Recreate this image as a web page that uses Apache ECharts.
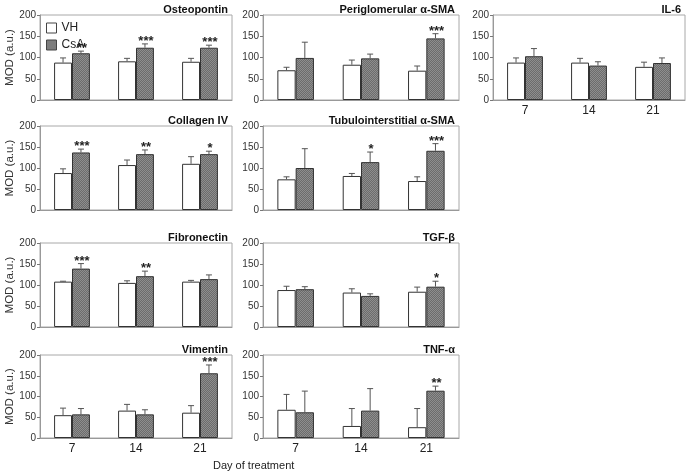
<!DOCTYPE html>
<html>
<head>
<meta charset="utf-8">
<script src="https://cdn.jsdelivr.net/npm/echarts@6/dist/echarts.min.js"></script>
<style>
html,body{margin:0;padding:0;background:#fff;}
#chart{width:689px;height:474px;}
</style>
</head>
<body>
<div id="chart"></div>
<script>
// ---- Data ----
const days = ['7', '14', '21'];
const seriesNames = ['VH', 'CsA'];
const yTicks = [0, 50, 100, 150, 200];
const xAxisTitle = 'Day of treatment';
const yAxisTitle = 'MOD (a.u.)';

const osteopontinVH = [88, 91, 90];
const osteopontinVHsd = [11, 7, 8];
const osteopontinCsA = [110, 123, 123];
const osteopontinCsAsd = [5, 9, 6];
const osteopontinStars = ['**', '***', '***'];

const periglomVH = [70, 83, 69];
const periglomVHsd = [7, 11, 11];
const periglomCsA = [99, 98, 145];
const periglomCsAsd = [37, 10, 11];
const periglomStars = ['', '', '***'];

const il6VH = [88, 88, 78];
const il6VHsd = [11, 10, 11];
const il6CsA = [103, 81, 87];
const il6CsAsd = [18, 9, 12];
const il6Stars = ['', '', ''];

const collagenVH = [88, 107, 110];
const collagenVHsd = [10, 12, 17];
const collagenCsA = [137, 133, 133];
const collagenCsAsd = [8, 10, 7];
const collagenStars = ['***', '**', '*'];

const tubuloVH = [73, 81, 69];
const tubuloVHsd = [6, 6, 10];
const tubuloCsA = [100, 114, 141];
const tubuloCsAsd = [46, 24, 17];
const tubuloStars = ['', '*', '***'];

const fibronectinVH = [108, 105, 108];
const fibronectinVHsd = [1, 5, 3];
const fibronectinCsA = [139, 121, 114];
const fibronectinCsAsd = [12, 12, 10];
const fibronectinStars = ['***', '**', ''];

const tgfbVH = [88, 82, 84];
const tgfbVHsd = [9, 9, 11];
const tgfbCsA = [90, 74, 96];
const tgfbCsAsd = [6, 5, 13];
const tgfbStars = ['', '', '*'];

const vimentinVH = [55, 66, 61];
const vimentinVHsd = [17, 15, 17];
const vimentinCsA = [57, 57, 156];
const vimentinCsAsd = [14, 11, 20];
const vimentinStars = ['', '', '***'];

const tnfaVH = [68, 29, 26];
const tnfaVHsd = [37, 42, 45];
const tnfaCsA = [62, 66, 114];
const tnfaCsAsd = [51, 53, 11];
const tnfaStars = ['', '', '**'];

// ---- Layout ----
const cols = [[40, 232], [263, 459], [493, 685]];
const rows = [[15, 100], [126, 210], [243, 327], [355, 438]];

const panels = [
  {title: 'Osteopontin', vh: osteopontinVH, vhSd: osteopontinVHsd, csa: osteopontinCsA, csaSd: osteopontinCsAsd, stars: osteopontinStars, c: 0, r: 0, xl: false},
  {title: 'Periglomerular α-SMA', vh: periglomVH, vhSd: periglomVHsd, csa: periglomCsA, csaSd: periglomCsAsd, stars: periglomStars, c: 1, r: 0, xl: false},
  {title: 'IL-6', vh: il6VH, vhSd: il6VHsd, csa: il6CsA, csaSd: il6CsAsd, stars: il6Stars, c: 2, r: 0, xl: true},
  {title: 'Collagen IV', vh: collagenVH, vhSd: collagenVHsd, csa: collagenCsA, csaSd: collagenCsAsd, stars: collagenStars, c: 0, r: 1, xl: false},
  {title: 'Tubulointerstitial α-SMA', vh: tubuloVH, vhSd: tubuloVHsd, csa: tubuloCsA, csaSd: tubuloCsAsd, stars: tubuloStars, c: 1, r: 1, xl: false},
  {title: 'Fibronectin', vh: fibronectinVH, vhSd: fibronectinVHsd, csa: fibronectinCsA, csaSd: fibronectinCsAsd, stars: fibronectinStars, c: 0, r: 2, xl: false},
  {title: 'TGF-β', vh: tgfbVH, vhSd: tgfbVHsd, csa: tgfbCsA, csaSd: tgfbCsAsd, stars: tgfbStars, c: 1, r: 2, xl: false},
  {title: 'Vimentin', vh: vimentinVH, vhSd: vimentinVHsd, csa: vimentinCsA, csaSd: vimentinCsAsd, stars: vimentinStars, c: 0, r: 3, xl: true},
  {title: 'TNF-α', vh: tnfaVH, vhSd: tnfaVHsd, csa: tnfaCsA, csaSd: tnfaCsAsd, stars: tnfaStars, c: 1, r: 3, xl: true}
];

// crosshatch texture for CsA bars
const pat = document.createElement('canvas');
pat.width = 2; pat.height = 2;
const pctx = pat.getContext('2d');
pctx.fillStyle = '#6c6c6c'; pctx.fillRect(0, 0, 2, 2);
pctx.fillStyle = '#8e8e8e'; pctx.fillRect(0, 0, 1, 1); pctx.fillRect(1, 1, 1, 1);
const csaFill = {image: pat, repeat: 'repeat'};

const FONT = 'Liberation Sans, Arial, sans-serif';
const BAR_FRAC = 0.28;

const grids = [], xAxes = [], yAxes = [], series = [], titles = [];

function errSeries(idx, vals, sds, side, stars) {
  return {
    type: 'custom',
    xAxisIndex: idx, yAxisIndex: idx,
    clip: false,
    silent: true,
    z: 5,
    data: vals.map((v, i) => [i, v, sds[i]]),
    renderItem: function (params, api) {
      const i = api.value(0), v = api.value(1), sd = api.value(2);
      const p0 = api.coord([i, v]);
      const p1 = api.coord([i, v + sd]);
      const cw = api.size([1, 0])[0];
      const bw = cw * BAR_FRAC;
      const cx = p0[0] + side * bw / 2;
      const style = {stroke: '#555', lineWidth: 1};
      const children = [
        {type: 'line', shape: {x1: cx, y1: p0[1], x2: cx, y2: p1[1]}, style: style},
        {type: 'line', shape: {x1: cx - 3, y1: p1[1], x2: cx + 3, y2: p1[1]}, style: style}
      ];
      if (stars && stars[params.dataIndex]) {
        children.push({
          type: 'text',
          x: cx + 1, y: p1[1] + 4,
          style: {text: stars[params.dataIndex], fill: '#222', font: 'bold 13px ' + FONT,
                  align: 'center', verticalAlign: 'bottom'}
        });
      }
      return {type: 'group', children: children};
    }
  };
}

panels.forEach((p, k) => {
  const [L, R] = cols[p.c];
  const [T, B] = rows[p.r];
  grids.push({left: L, top: T, width: R - L, height: B - T, show: true,
              borderColor: '#a8a8a8', borderWidth: 1, backgroundColor: 'transparent'});
  xAxes.push({
    type: 'category', gridIndex: k, data: days,
    axisLine: {lineStyle: {color: '#999'}},
    axisTick: {show: false},
    axisLabel: {show: p.xl, color: '#222', fontSize: 12, fontFamily: FONT, margin: 5}
  });
  yAxes.push({
    type: 'value', gridIndex: k, min: yTicks[0], max: yTicks[yTicks.length - 1], interval: 50,
    splitLine: {show: false},
    axisLine: {show: true, lineStyle: {color: '#999'}},
    axisTick: {show: true, length: 3, lineStyle: {color: '#777'}},
    axisLabel: {color: '#333', fontSize: 10, fontFamily: FONT, margin: 4},
    name: p.c === 0 ? yAxisTitle : '',
    nameLocation: 'middle', nameGap: 23,
    nameTextStyle: {color: '#333', fontSize: 11.5, fontFamily: FONT}
  });
  titles.push({
    text: p.title, right: 689 - R - 1, top: T - 16,
    textStyle: {fontSize: 11, fontWeight: 'bold', color: '#111', fontFamily: FONT}
  });
  series.push({
    name: seriesNames[0], type: 'bar', xAxisIndex: k, yAxisIndex: k,
    data: p.vh, barWidth: (BAR_FRAC * 100) + '%', barGap: '0%',
    itemStyle: {color: '#fff', borderColor: '#333', borderWidth: 1},
    emphasis: {disabled: true}
  });
  series.push({
    name: seriesNames[1], type: 'bar', xAxisIndex: k, yAxisIndex: k,
    data: p.csa, barWidth: (BAR_FRAC * 100) + '%', barGap: '0%',
    itemStyle: {color: csaFill, borderColor: '#333', borderWidth: 1},
    emphasis: {disabled: true}
  });
  series.push(errSeries(k, p.vh, p.vhSd, -1, null));
  series.push(errSeries(k, p.csa, p.csaSd, 1, p.stars));
});

const chart = echarts.init(document.getElementById('chart'), null, {renderer: 'canvas'});
chart.setOption({
  animation: false,
  backgroundColor: '#fff',
  title: titles,
  legend: {
    data: seriesNames.map(n => ({name: n, icon: 'rect'})),
    orient: 'vertical', left: 41, top: 17,
    itemWidth: 10, itemHeight: 10, itemGap: 5,
    itemStyle: {borderWidth: 1, borderColor: '#444'},
    textStyle: {fontSize: 12, color: '#222', fontFamily: FONT},
    selectedMode: false
  },
  grid: grids,
  xAxis: xAxes,
  yAxis: yAxes,
  series: series,
  graphic: [{
    type: 'text', left: 213, top: 460,
    style: {text: xAxisTitle, fill: '#222', font: '11px ' + FONT}
  }]
});
</script>
</body>
</html>
